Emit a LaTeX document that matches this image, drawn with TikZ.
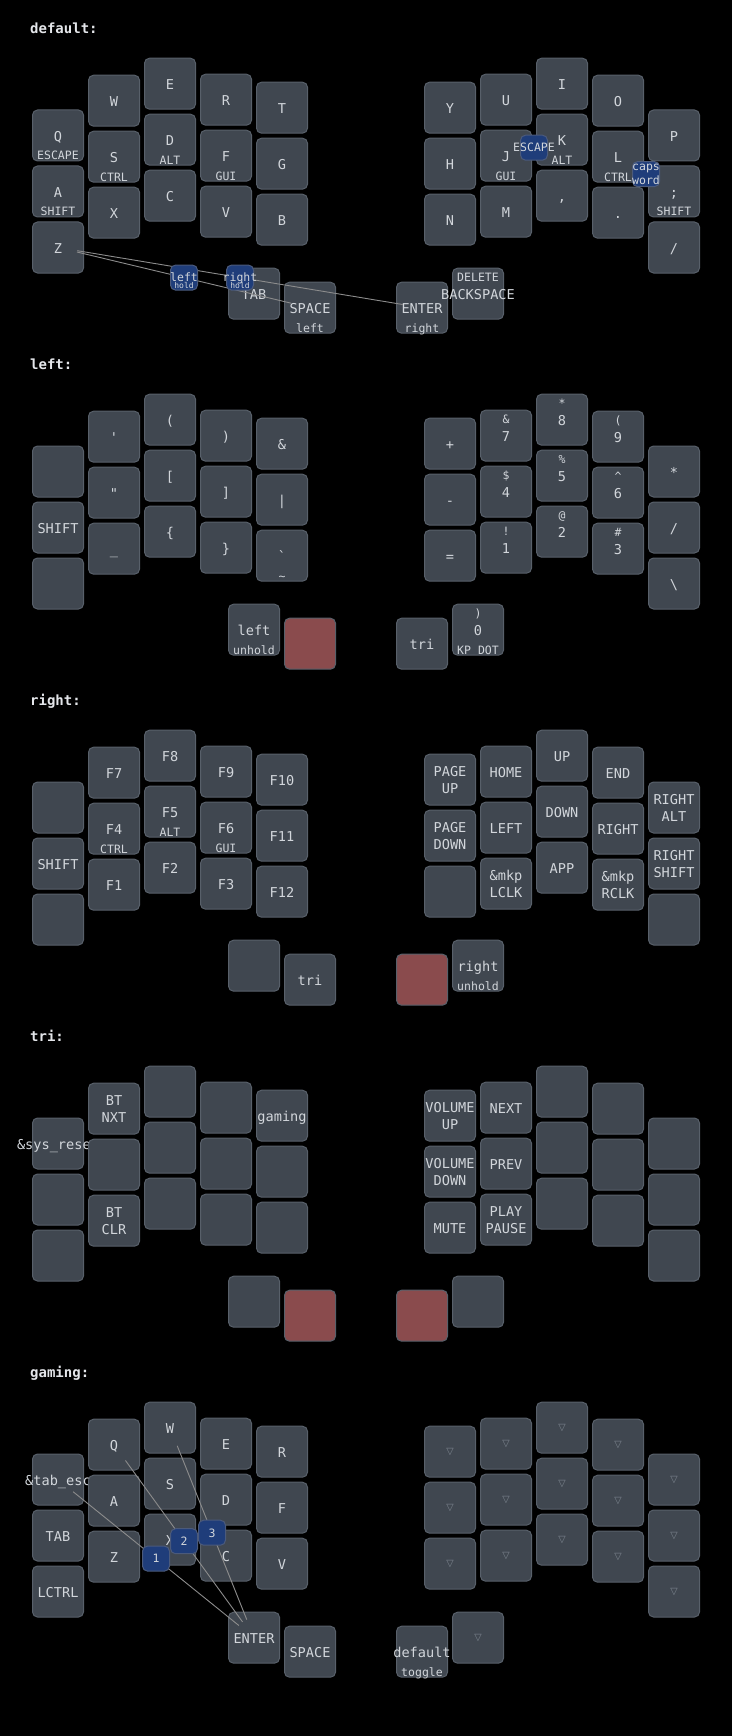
\documentclass[tikz,border=0pt]{standalone}
\usepackage{fontspec}
\setmonofont{DejaVu Sans Mono}
\newfontfamily\symfam{DejaVu Sans}
\usetikzlibrary{calc}
\definecolor{keyfill}{HTML}{404750}
\definecolor{keyline}{HTML}{58606A}
\definecolor{heldfill}{HTML}{8A4B4D}
\definecolor{combofill}{HTML}{1F3D7A}
\definecolor{comboedge}{HTML}{4B5A7B}
\definecolor{txt}{HTML}{D2D6DB}
\definecolor{transc}{HTML}{7E8690}
\definecolor{linec}{HTML}{8C8C8C}
\definecolor{titlec}{HTML}{E4E6EA}
\newcommand\tapf{\ttfamily\fontsize{13.6}{16}\selectfont}
\newcommand\smf{\ttfamily\fontsize{11.5}{14}\selectfont}
\newcommand\tinyf{\ttfamily\fontsize{8}{9}\selectfont}
\newcommand\transf{\symfam\fontsize{9.6}{10}\selectfont}
\newcommand\titlef{\ttfamily\fontsize{14}{17}\selectfont\bfseries}
\tikzset{
 keybox/.style={draw=keyline, fill=keyfill, line width=1pt, rounded corners=5pt, minimum width=51pt, minimum height=51pt, inner sep=0pt},
 heldbox/.style={keybox, fill=heldfill},
 tapt/.style={text=txt, font=\tapf, anchor=base, inner sep=0pt},
 smallt/.style={text=txt, font=\smf, anchor=base, inner sep=0pt},
 transt/.style={text=transc, font=\transf, inner sep=0pt},
 combobox/.style={draw=comboedge, fill=combofill, line width=1pt, rounded corners=5pt, minimum width=27pt, minimum height=25pt, inner sep=0pt},
 combot/.style={text=txt, font=\smf, anchor=base, inner sep=0pt},
 combohold/.style={text=txt, font=\tinyf, anchor=base, inner sep=0pt},
 cline/.style={draw=linec, line width=0.9pt, shorten <=19.5pt, shorten >=19.5pt},
 titlet/.style={text=titlec, font=\titlef, anchor=base west, inner sep=0pt},
}
% key: position, name, tap, hold, shifted
\newcommand\K[5]{%
 \node[keybox] (#2) at (#1) {};
 \if\relax\detokenize{#3}\relax\else\node[tapt] (#2-t) at ([yshift=-5.7pt]#2.center) {#3};\fi
 \if\relax\detokenize{#4}\relax\else\node[smallt] (#2-h) at ([yshift=-24.5pt]#2.center) {#4};\fi
 \if\relax\detokenize{#5}\relax\else\node[smallt] (#2-s) at ([yshift=12.2pt]#2.center) {#5};\fi}
\newcommand\KT[4]{%
 \node[keybox] (#2) at (#1) {};
 \node[tapt] (#2-a) at ([yshift=3.4pt]#2.center) {#3};
 \node[tapt] (#2-b) at ([yshift=-13.6pt]#2.center) {#4};}
\newcommand\KE[2]{\node[keybox] (#2) at (#1) {};}
\newcommand\KR[2]{\node[heldbox] (#2) at (#1) {};}
\newcommand\KV[2]{\node[keybox] (#2) at (#1) {};\node[transt] (#2-t) at (#2.center) {▽};}
\newcommand\CB[4]{%
 \node[combobox] (#1) at (#2) {};
 \node[combot] (#1-t) at ([yshift=-4.3pt]#1.center) {#3};
 \if\relax\detokenize{#4}\relax\else\node[combohold] (#1-h) at ([yshift=-10.5pt]#1.center) {#4};\fi}
\newcommand\mkpos{%
 \coordinate (a0) at (58,135.5); \coordinate (b0) at (58,191.5); \coordinate (c0) at (58,247.5);
 \coordinate (a1) at (114,100.7); \coordinate (b1) at (114,156.7); \coordinate (c1) at (114,212.7);
 \coordinate (a2) at (170,83.7); \coordinate (b2) at (170,139.7); \coordinate (c2) at (170,195.7);
 \coordinate (a3) at (226,99.7); \coordinate (b3) at (226,155.7); \coordinate (c3) at (226,211.7);
 \coordinate (a4) at (282,107.7); \coordinate (b4) at (282,163.7); \coordinate (c4) at (282,219.7);
 \coordinate (a5) at (450,107.7); \coordinate (b5) at (450,163.7); \coordinate (c5) at (450,219.7);
 \coordinate (a6) at (506,99.7); \coordinate (b6) at (506,155.7); \coordinate (c6) at (506,211.7);
 \coordinate (a7) at (562,83.7); \coordinate (b7) at (562,139.7); \coordinate (c7) at (562,195.7);
 \coordinate (a8) at (618,100.7); \coordinate (b8) at (618,156.7); \coordinate (c8) at (618,212.7);
 \coordinate (a9) at (674,135.5); \coordinate (b9) at (674,191.5); \coordinate (c9) at (674,247.5);
 \coordinate (t1) at (254,293.7); \coordinate (t2) at (310,307.7);
 \coordinate (t3) at (422,307.7); \coordinate (t4) at (478,293.7);}
\begin{document}
\begin{tikzpicture}[x=1pt,y=-1pt]
\useasboundingbox (0,0) rectangle (732,1736);
\fill[black] (0,0) rectangle (732,1736);
% ---------------- default
\begin{scope}
\mkpos
\node[titlet] (d-title) at (30,33.3) {default:};
\K{a0}{d-q}{Q}{ESCAPE}{}
\K{a1}{d-w}{W}{}{}
\K{a2}{d-e}{E}{}{}
\K{a3}{d-r}{R}{}{}
\K{a4}{d-t}{T}{}{}
\K{a5}{d-y}{Y}{}{}
\K{a6}{d-u}{U}{}{}
\K{a7}{d-i}{I}{}{}
\K{a8}{d-o}{O}{}{}
\K{a9}{d-p}{P}{}{}
\K{b0}{d-a}{A}{SHIFT}{}
\K{b1}{d-s}{S}{CTRL}{}
\K{b2}{d-d}{D}{ALT}{}
\K{b3}{d-f}{F}{GUI}{}
\K{b4}{d-g}{G}{}{}
\K{b5}{d-h}{H}{}{}
\K{b6}{d-j}{J}{GUI}{}
\K{b7}{d-k}{K}{ALT}{}
\K{b8}{d-l}{L}{CTRL}{}
\K{b9}{d-semi}{;}{SHIFT}{}
\K{c0}{d-z}{Z}{}{}
\K{c1}{d-x}{X}{}{}
\K{c2}{d-c}{C}{}{}
\K{c3}{d-v}{V}{}{}
\K{c4}{d-b}{B}{}{}
\K{c5}{d-n}{N}{}{}
\K{c6}{d-m}{M}{}{}
\K{c7}{d-comma}{,}{}{}
\K{c8}{d-dot}{.}{}{}
\K{c9}{d-slash}{/}{}{}
\K{t1}{d-tab}{TAB}{}{}
\K{t2}{d-spc}{SPACE}{left}{}
\K{t3}{d-ent}{ENTER}{right}{}
\K{t4}{d-bks}{BACKSPACE}{}{DELETE}
\draw[cline] (d-z.center) -- (d-spc.center);
\draw[cline] (d-z.center) -- (d-ent.center);
\CB{d-lh}{$(d-z.center)!0.5!(d-spc.center)$}{left}{hold}
\CB{d-rh}{$(d-z.center)!0.5!(d-ent.center)$}{right}{hold}
\CB{d-esc}{$(d-j.center)!0.5!(d-k.center)$}{ESCAPE}{}
\node[combobox] (d-cw) at ($(d-l.center)!0.5!(d-semi.center)$) {};
\node[combot] (d-cw-a) at ([yshift=4pt]d-cw.center) {caps};
\node[combot] (d-cw-b) at ([yshift=-10pt]d-cw.center) {word};
\end{scope}
% ---------------- left
\begin{scope}[shift={(0,336)}]
\mkpos
\node[titlet] (l-title) at (30,33.3) {left:};
\KE{a0}{l-a0}
\K{a1}{l-a1}{\symbol{"27}}{}{}
\K{a2}{l-a2}{(}{}{}
\K{a3}{l-a3}{)}{}{}
\K{a4}{l-a4}{\&}{}{}
\K{a5}{l-a5}{+}{}{}
\K{a6}{l-a6}{7}{}{\&}
\K{a7}{l-a7}{8}{}{*}
\K{a8}{l-a8}{9}{}{(}
\K{a9}{l-a9}{*}{}{}
\K{b0}{l-b0}{SHIFT}{}{}
\K{b1}{l-b1}{\symbol{"22}}{}{}
\K{b2}{l-b2}{[}{}{}
\K{b3}{l-b3}{]}{}{}
\K{b4}{l-b4}{|}{}{}
\K{b5}{l-b5}{-}{}{}
\K{b6}{l-b6}{4}{}{\$}
\K{b7}{l-b7}{5}{}{\%}
\K{b8}{l-b8}{6}{}{\textasciicircum}
\K{b9}{l-b9}{/}{}{}
\KE{c0}{l-c0}
\K{c1}{l-c1}{\_}{}{}
\K{c2}{l-c2}{\{}{}{}
\K{c3}{l-c3}{\}}{}{}
\K{c4}{l-c4}{\symbol{"60}}{\textasciitilde}{}
\K{c5}{l-c5}{=}{}{}
\K{c6}{l-c6}{1}{}{!}
\K{c7}{l-c7}{2}{}{@}
\K{c8}{l-c8}{3}{}{\#}
\K{c9}{l-c9}{\textbackslash}{}{}
\K{t1}{l-t1}{left}{unhold}{}
\KR{t2}{l-t2}
\K{t3}{l-t3}{tri}{}{}
\K{t4}{l-t4}{0}{KP DOT}{)}
\end{scope}
% ---------------- right
\begin{scope}[shift={(0,672)}]
\mkpos
\node[titlet] (r-title) at (30,33.3) {right:};
\KE{a0}{r-a0}
\K{a1}{r-a1}{F7}{}{}
\K{a2}{r-a2}{F8}{}{}
\K{a3}{r-a3}{F9}{}{}
\K{a4}{r-a4}{F10}{}{}
\KT{a5}{r-a5}{PAGE}{UP}
\K{a6}{r-a6}{HOME}{}{}
\K{a7}{r-a7}{UP}{}{}
\K{a8}{r-a8}{END}{}{}
\KT{a9}{r-a9}{RIGHT}{ALT}
\K{b0}{r-b0}{SHIFT}{}{}
\K{b1}{r-b1}{F4}{CTRL}{}
\K{b2}{r-b2}{F5}{ALT}{}
\K{b3}{r-b3}{F6}{GUI}{}
\K{b4}{r-b4}{F11}{}{}
\KT{b5}{r-b5}{PAGE}{DOWN}
\K{b6}{r-b6}{LEFT}{}{}
\K{b7}{r-b7}{DOWN}{}{}
\K{b8}{r-b8}{RIGHT}{}{}
\KT{b9}{r-b9}{RIGHT}{SHIFT}
\KE{c0}{r-c0}
\K{c1}{r-c1}{F1}{}{}
\K{c2}{r-c2}{F2}{}{}
\K{c3}{r-c3}{F3}{}{}
\K{c4}{r-c4}{F12}{}{}
\KE{c5}{r-c5}
\KT{c6}{r-c6}{\&mkp}{LCLK}
\K{c7}{r-c7}{APP}{}{}
\KT{c8}{r-c8}{\&mkp}{RCLK}
\KE{c9}{r-c9}
\KE{t1}{r-t1}
\K{t2}{r-t2}{tri}{}{}
\KR{t3}{r-t3}
\K{t4}{r-t4}{right}{unhold}{}
\end{scope}
% ---------------- tri
\begin{scope}[shift={(0,1008)}]
\mkpos
\node[titlet] (x-title) at (30,33.3) {tri:};
\K{a0}{x-a0}{\&sys\_reset}{}{}
\KT{a1}{x-a1}{BT}{NXT}
\KE{a2}{x-a2}
\KE{a3}{x-a3}
\K{a4}{x-a4}{gaming}{}{}
\KT{a5}{x-a5}{VOLUME}{UP}
\K{a6}{x-a6}{NEXT}{}{}
\KE{a7}{x-a7}
\KE{a8}{x-a8}
\KE{a9}{x-a9}
\KE{b0}{x-b0}
\KE{b1}{x-b1}
\KE{b2}{x-b2}
\KE{b3}{x-b3}
\KE{b4}{x-b4}
\KT{b5}{x-b5}{VOLUME}{DOWN}
\K{b6}{x-b6}{PREV}{}{}
\KE{b7}{x-b7}
\KE{b8}{x-b8}
\KE{b9}{x-b9}
\KE{c0}{x-c0}
\KT{c1}{x-c1}{BT}{CLR}
\KE{c2}{x-c2}
\KE{c3}{x-c3}
\KE{c4}{x-c4}
\K{c5}{x-c5}{MUTE}{}{}
\KT{c6}{x-c6}{PLAY}{PAUSE}
\KE{c7}{x-c7}
\KE{c8}{x-c8}
\KE{c9}{x-c9}
\KE{t1}{x-t1}
\KR{t2}{x-t2}
\KR{t3}{x-t3}
\KE{t4}{x-t4}
\end{scope}
% ---------------- gaming
\begin{scope}[shift={(0,1344)}]
\mkpos
\node[titlet] (g-title) at (30,33.3) {gaming:};
\K{a0}{g-a0}{\&tab\_esc}{}{}
\K{a1}{g-a1}{Q}{}{}
\K{a2}{g-a2}{W}{}{}
\K{a3}{g-a3}{E}{}{}
\K{a4}{g-a4}{R}{}{}
\KV{a5}{g-a5}
\KV{a6}{g-a6}
\KV{a7}{g-a7}
\KV{a8}{g-a8}
\KV{a9}{g-a9}
\K{b0}{g-b0}{TAB}{}{}
\K{b1}{g-b1}{A}{}{}
\K{b2}{g-b2}{S}{}{}
\K{b3}{g-b3}{D}{}{}
\K{b4}{g-b4}{F}{}{}
\KV{b5}{g-b5}
\KV{b6}{g-b6}
\KV{b7}{g-b7}
\KV{b8}{g-b8}
\KV{b9}{g-b9}
\K{c0}{g-c0}{LCTRL}{}{}
\K{c1}{g-c1}{Z}{}{}
\K{c2}{g-c2}{X}{}{}
\K{c3}{g-c3}{C}{}{}
\K{c4}{g-c4}{V}{}{}
\KV{c5}{g-c5}
\KV{c6}{g-c6}
\KV{c7}{g-c7}
\KV{c8}{g-c8}
\KV{c9}{g-c9}
\K{t1}{g-t1}{ENTER}{}{}
\K{t2}{g-t2}{SPACE}{}{}
\K{t3}{g-t3}{default}{toggle}{}
\KV{t4}{g-t4}
\draw[cline] (g-a0.center) -- (g-t1.center);
\draw[cline] (g-a1.center) -- (g-t1.center);
\draw[cline] (g-a2.center) -- (g-t1.center);
\CB{g-k1}{$(g-a0.center)!0.5!(g-t1.center)$}{1}{}
\CB{g-k2}{$(g-a1.center)!0.5!(g-t1.center)$}{2}{}
\CB{g-k3}{$(g-a2.center)!0.5!(g-t1.center)$}{3}{}
\end{scope}
\end{tikzpicture}
\end{document}
